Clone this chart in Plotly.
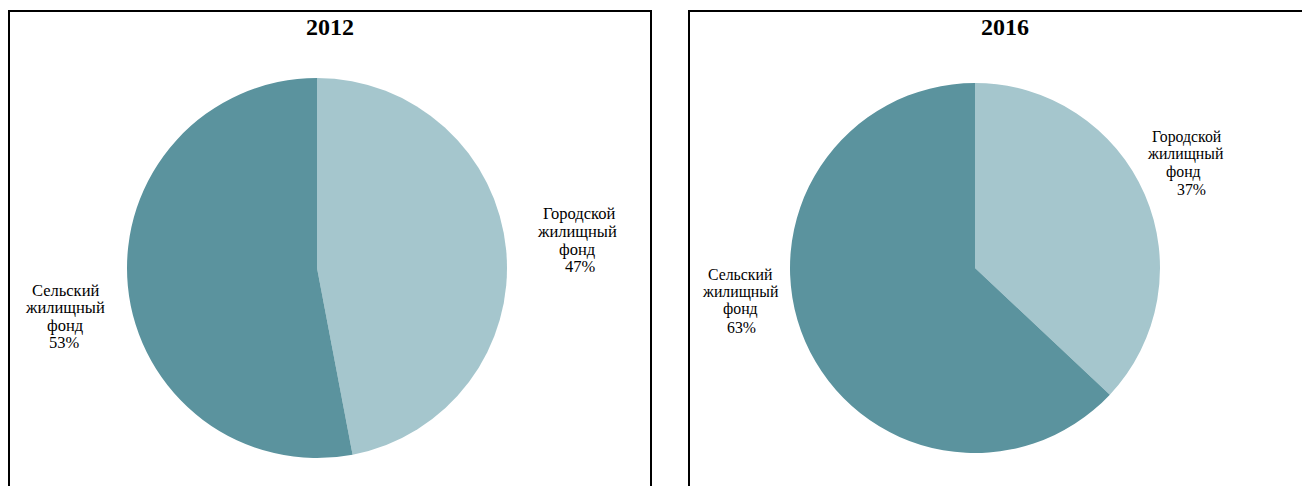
import plotly.graph_objects as go

W, H = 1310, 486
OFF = 8  # page body margin in the browser

# Data
categories = ["Городской жилищный фонд", "Сельский жилищный фонд"]
label_lines = [["Городской", "жилищный", "фонд"], ["Сельский", "жилищный", "фонд"]]
years = ["2012", "2016"]
values_2012 = [47, 53]
values_2016 = [37, 63]
colors = ["#A5C6CD", "#5B939E"]

FONT = "Liberation Serif, Times New Roman, serif"


def px_x(x):
    return (x - OFF) / W


def px_y(y):
    return 1 - (y - OFF) / H


fig = go.Figure()

# pie placements (center px, radius px) in screen coordinates
pies = [
    (years[0], values_2012, (317, 268), 190),
    (years[1], values_2016, (975, 268), 185),
]
for name, vals, (cx, cy), r in pies:
    fig.add_trace(go.Pie(
        labels=categories,
        values=vals,
        name=name,
        sort=False,
        direction="clockwise",
        rotation=0,
        marker=dict(colors=colors, line=dict(width=0)),
        textinfo="none",
        showlegend=False,
        domain=dict(x=[px_x(cx - r), px_x(cx + r)], y=[px_y(cy + r), px_y(cy - r)]),
    ))

# label layout per pie: list of (x centers per line, y centers per line), font size
label_layout = [
    dict(size=16.5, items=[
        ([579, 577, 577, 580], [214, 231.5, 249, 266.5]),
        ([65, 65, 65, 64], [290, 307.5, 325, 342.5]),
    ]),
    dict(size=15.8, items=[
        ([1187, 1185, 1183, 1191], [137, 154.5, 172, 189.5]),
        ([740, 740, 740, 741], [274, 291.5, 309, 327]),
    ]),
]
annotations = []
for (name, vals, _, _), lay in zip(pies, label_layout):
    for i, (xs, ys) in enumerate(lay["items"]):
        lines = label_lines[i] + [f"{vals[i]}%"]
        for t, lx, ly in zip(lines, xs, ys):
            annotations.append(dict(
                x=px_x(lx), y=px_y(ly), xref="paper", yref="paper",
                text=t, showarrow=False, align="center",
                xanchor="center", yanchor="middle",
                font=dict(family=FONT, size=lay["size"], color="#000000"),
            ))

# titles
for title, tx in zip(years, [330, 1005]):
    annotations.append(dict(
        x=px_x(tx), y=px_y(27), xref="paper", yref="paper",
        text=f"<b>{title}</b>", showarrow=False,
        xanchor="center", yanchor="middle",
        font=dict(family=FONT, size=24, color="#000000"),
    ))

# panel borders
shapes = []
for x0, x1 in [(9, 651), (689, 1340)]:
    shapes.append(dict(
        type="rect", xref="paper", yref="paper",
        x0=px_x(x0), x1=px_x(x1), y0=px_y(530), y1=px_y(11),
        line=dict(color="#000000", width=2), fillcolor="rgba(0,0,0,0)",
    ))

fig.update_layout(
    width=W, height=H,
    margin=dict(l=0, r=0, t=0, b=0),
    paper_bgcolor="#FFFFFF",
    plot_bgcolor="#FFFFFF",
    annotations=annotations,
    shapes=shapes,
    font=dict(family=FONT),
)

fig.write_html("out.html")
